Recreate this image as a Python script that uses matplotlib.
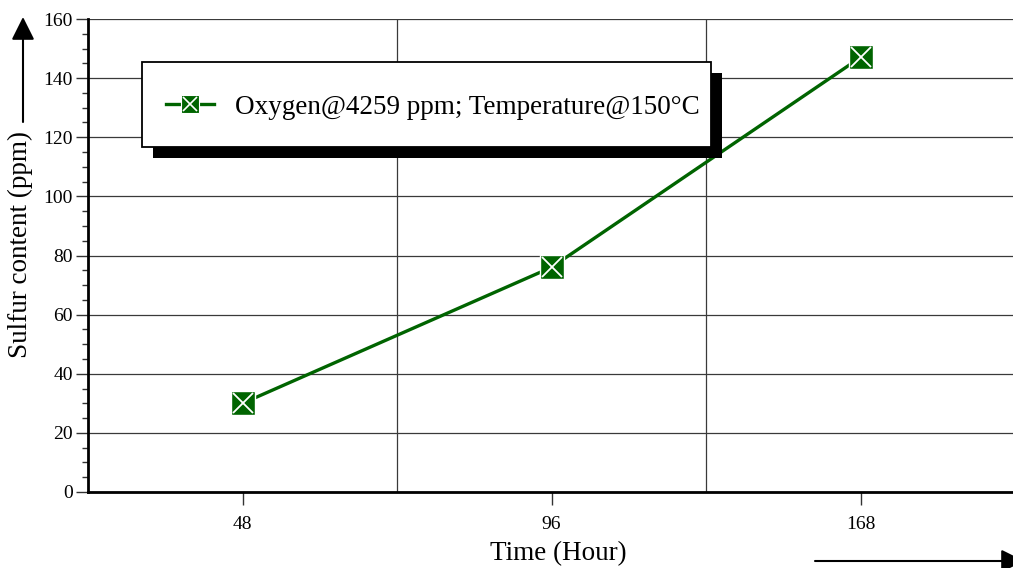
import matplotlib
matplotlib.use("Agg")
import matplotlib.pyplot as plt
from matplotlib.patches import Rectangle
from matplotlib.lines import Line2D
from matplotlib.transforms import IdentityTransform
from matplotlib.legend_handler import HandlerTuple
from matplotlib.ticker import MultipleLocator, FixedLocator

plt.rcParams['font.family'] = ['Liberation Serif', 'DejaVu Serif']

# data
hours = ['48', '96', '168']
sulfur = [30, 76, 147]
series_label = 'Oxygen@4259 ppm; Temperature@150°C'
green = '#006400'

W, H = 1013, 568
fig = plt.figure(figsize=(W / 100, H / 100), dpi=100)
ax = fig.add_axes([88 / W, 76 / H, 927 / W, 473 / H])

x = list(range(len(hours)))
ax.plot(x, sulfur, color=green, lw=2.4, marker='s', ms=17.8,
        mfc=green, mec='white', mew=1.0, zorder=4, clip_on=False)
ax.plot(x, sulfur, ls='none', marker='x', ms=15, mec='white',
        mew=1.3, zorder=5, clip_on=False)

ax.set_xlim(-0.5, len(hours) - 0.5)
ax.set_ylim(0, 160)
ax.set_xticks(x)
ax.set_xticklabels(hours)
ax.xaxis.set_minor_locator(FixedLocator([0.5, 1.5]))
ax.yaxis.set_major_locator(MultipleLocator(20))
ax.yaxis.set_minor_locator(MultipleLocator(5))

ax.grid(True, axis='y', which='major', color='#3a3a3a', lw=0.9)
ax.grid(True, axis='x', which='minor', color='#3a3a3a', lw=0.9)
ax.tick_params(axis='x', which='major', length=9.5, width=1.0, color='#333333',
               labelsize=14, pad=8)
ax.tick_params(axis='x', which='minor', length=0)
ax.tick_params(axis='y', which='major', length=9, width=1.0, color='#333333',
               labelsize=14, pad=2)
ax.tick_params(axis='y', which='minor', length=4.5, width=1.0, color='#333333')

for s in ['top', 'right']:
    ax.spines[s].set_visible(False)
for s in ['left', 'bottom']:
    ax.spines[s].set_linewidth(2.0)
    ax.spines[s].set_zorder(6)

ax.set_xlabel('Time (Hour)', fontsize=19.5)
ax.xaxis.set_label_coords(0.507, -0.104)
ax.set_ylabel('Sulfur content (ppm)', fontsize=19.5)
ax.yaxis.set_label_coords(-0.0595, 0.524)

# legend: proxies for the boxed-cross marker
h_line = Line2D([], [], color=green, lw=2.4, marker='s', ms=13,
                mfc=green, mec='white', mew=0.8)
h_cross = Line2D([], [], ls='none', marker='x', ms=10.5, mec='white', mew=1.2)
leg = ax.legend([(h_line, h_cross)], [series_label],
                handler_map={tuple: HandlerTuple(ndivide=1, pad=0)},
                loc='center left', bbox_to_anchor=(166, H - 107),
                bbox_transform=IdentityTransform(), borderaxespad=0,
                borderpad=0, fontsize=19.5, frameon=False,
                handlelength=1.78, handletextpad=0.76)
leg.set_zorder(9)

# legend frame and its black offset shadow
bx0, by_top, bw, bh = 141.7, 61.7, 569.3, 85.3
ax.add_artist(Rectangle((bx0 + 11, H - by_top - bh - 11), bw, bh,
                        transform=IdentityTransform(), facecolor='black',
                        edgecolor='none', zorder=7.9, clip_on=False))
ax.add_artist(Rectangle((bx0, H - by_top - bh), bw, bh,
                        transform=IdentityTransform(), facecolor='white',
                        edgecolor='black', lw=1.3, zorder=8, clip_on=False))

# direction arrows
arrow = dict(arrowstyle='-|>,head_length=1.0,head_width=0.5',
             mutation_scale=14, color='black', lw=1.5, shrinkA=0, shrinkB=0)
ax.annotate('', xy=(23, H - 17), xytext=(23, H - 122),
            xycoords='figure pixels', textcoords='figure pixels',
            arrowprops=arrow, annotation_clip=False)
ax.annotate('', xy=(1024, 7), xytext=(815, 7),
            xycoords='figure pixels', textcoords='figure pixels',
            arrowprops=arrow, annotation_clip=False)

fig.savefig('out.png', dpi=100)
